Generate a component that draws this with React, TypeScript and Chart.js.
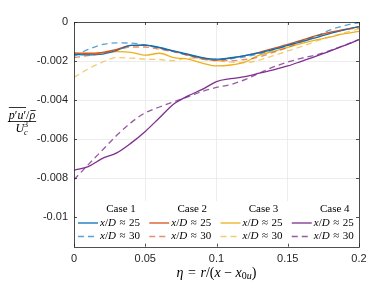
import React, { useEffect, useRef } from 'react';
import { Chart, registerables } from 'chart.js';
Chart.register(...registerables);

// ---------- data ----------
const etaValues = [0, 0.01, 0.02, 0.03, 0.04, 0.05, 0.06, 0.07, 0.08, 0.09, 0.1, 0.11, 0.12, 0.13, 0.14, 0.15, 0.16, 0.17, 0.18, 0.19, 0.2];

const case1At25 = [-0.00166, -0.00168, -0.00164, -0.00145, -0.0012, -0.00118, -0.0013, -0.00148, -0.00165, -0.00182, -0.0019, -0.00183, -0.00172, -0.00158, -0.0014, -0.0012, -0.001, -0.0008, -0.00058, -0.0004, -0.00024];
const case1At30 = [-0.00175, -0.0014, -0.00115, -0.00107, -0.00108, -0.00118, -0.00135, -0.00152, -0.0017, -0.00185, -0.00192, -0.00188, -0.00178, -0.00162, -0.00142, -0.0012, -0.00095, -0.00072, -0.0004, -0.00018, -0.00003];
const case2At25 = [-0.00158, -0.0016, -0.00155, -0.0014, -0.0012, -0.00118, -0.00132, -0.0015, -0.00168, -0.00185, -0.00195, -0.00185, -0.00172, -0.00155, -0.00135, -0.00115, -0.00093, -0.0007, -0.00052, -0.00038, -0.00024];
const case2At30 = [-0.00182, -0.00172, -0.0016, -0.00145, -0.00128, -0.00128, -0.0014, -0.00152, -0.00172, -0.0019, -0.00198, -0.00198, -0.00192, -0.00178, -0.00155, -0.0013, -0.001, -0.00075, -0.00055, -0.0004, -0.0003];
const case3At25 = [-0.00162, -0.00165, -0.00158, -0.00152, -0.00155, -0.0017, -0.0016, -0.00182, -0.0019, -0.0021, -0.00225, -0.0022, -0.00205, -0.0017, -0.0015, -0.0013, -0.0011, -0.00092, -0.00076, -0.0006, -0.00048];
const case3At30 = [-0.00284, -0.0024, -0.00205, -0.00182, -0.00185, -0.0019, -0.00192, -0.00198, -0.00185, -0.0019, -0.00198, -0.00205, -0.00208, -0.00195, -0.00172, -0.00148, -0.00125, -0.00098, -0.00075, -0.00055, -0.00035];
const case4At25 = [-0.00759, -0.0074, -0.00698, -0.0067, -0.0062, -0.0056, -0.0049, -0.0042, -0.00378, -0.00345, -0.00305, -0.0029, -0.0028, -0.00262, -0.00245, -0.00225, -0.002, -0.00175, -0.00148, -0.0012, -0.0009];
const case4At30 = [-0.00807, -0.0073, -0.00655, -0.0058, -0.00515, -0.00465, -0.00435, -0.00408, -0.00383, -0.00355, -0.00335, -0.0032, -0.00295, -0.00262, -0.0023, -0.00205, -0.00185, -0.00168, -0.00145, -0.00118, -0.0009];

const caseLabels = ['Case 1', 'Case 2', 'Case 3', 'Case 4'];
const stationLabels = ['25', '30'];
const xTickValues = [0, 0.05, 0.1, 0.15, 0.2];
const xTickLabels = ['0', '0.05', '0.1', '0.15', '0.2'];
const yTickValues = [-0.01, -0.008, -0.006, -0.004, -0.002, 0];
const yTickLabels = ['-0.01', '-0.008', '-0.006', '-0.004', '-0.002', '0'];

// ---------- styles ----------
const solidColors = ['#0072BD', '#D95319', '#EDB120', '#7E2F8E'];
const dashedColors = ['rgba(0,114,189,0.65)', 'rgba(217,83,25,0.65)', 'rgba(237,177,32,0.65)', 'rgba(126,47,142,0.8)'];
const DASH = [6, 4];
const SERIF = '"Liberation Serif", "Times New Roman", serif';
const SANS = '"Liberation Sans", Arial, sans-serif';
const AXIS_COLOR = '#262626';

type Seg = { t: string; font: string; dy?: number; pre?: number; post?: number };

function measureRich(ctx: CanvasRenderingContext2D, segs: Seg[]) {
  let w = 0;
  for (const s of segs) {
    ctx.font = s.font;
    w += (s.pre || 0) + ctx.measureText(s.t).width + (s.post || 0);
  }
  return w;
}

function drawRich(ctx: CanvasRenderingContext2D, segs: Seg[], x: number, y: number, align: 'left' | 'center') {
  const total = measureRich(ctx, segs);
  let cx = align === 'center' ? x - total / 2 : x;
  ctx.textAlign = 'left';
  ctx.textBaseline = 'middle';
  const positions: number[] = [];
  for (const s of segs) {
    ctx.font = s.font;
    cx += s.pre || 0;
    positions.push(cx);
    ctx.fillText(s.t, cx, y + (s.dy || 0));
    cx += ctx.measureText(s.t).width + (s.post || 0);
  }
  return { start: align === 'center' ? x - total / 2 : x, width: total, positions };
}

const decorPlugin = {
  id: 'decor',
  afterDraw(chart: any) {
    const ctx: CanvasRenderingContext2D = chart.ctx;
    const { left, right, top, bottom } = chart.chartArea;
    const xs = chart.scales.x;
    const ys = chart.scales.y;
    ctx.save();

    // legend background
    ctx.fillStyle = '#ffffff';
    ctx.fillRect(left + 1, 201, right - left - 2, bottom - 201);

    // legend
    const colW = (right - left) / 4;
    const it = `italic 11px ${SERIF}`;
    const rm = `11px ${SERIF}`;
    for (let i = 0; i < 4; i++) {
      const x0 = left + 4 + i * colW;
      ctx.fillStyle = '#000';
      drawRich(ctx, [{ t: caseLabels[i], font: rm }], x0 + 43, 209, 'center');
      for (let r = 0; r < 2; r++) {
        const yy = r === 0 ? 223 : 236.5;
        ctx.beginPath();
        ctx.strokeStyle = r === 0 ? solidColors[i] : dashedColors[i];
        ctx.lineWidth = 1.3;
        ctx.setLineDash(r === 0 ? [] : DASH);
        ctx.moveTo(x0, yy);
        ctx.lineTo(x0 + 20, yy);
        ctx.stroke();
        ctx.setLineDash([]);
        ctx.fillStyle = '#000';
        drawRich(ctx, [
          { t: 'x', font: it },
          { t: '/', font: rm },
          { t: 'D', font: it },
          { t: '\u2248', font: rm, pre: 3.5, post: 3.5 },
          { t: stationLabels[r], font: rm },
        ], x0 + 22, yy, 'left');
      }
    }

    // box
    ctx.strokeStyle = AXIS_COLOR;
    ctx.lineWidth = 0.8;
    ctx.strokeRect(Math.round(left) + 0.5, Math.round(top) + 0.5, Math.round(right - left), Math.round(bottom - top));

    // inner ticks
    ctx.beginPath();
    for (const v of xTickValues) {
      const px = Math.round(xs.getPixelForValue(v)) + 0.5;
      ctx.moveTo(px, bottom); ctx.lineTo(px, bottom - 3);
      ctx.moveTo(px, top); ctx.lineTo(px, top + 3);
    }
    for (const v of yTickValues) {
      const py = Math.round(ys.getPixelForValue(v)) + 0.5;
      ctx.moveTo(left, py); ctx.lineTo(left + 3, py);
      ctx.moveTo(right, py); ctx.lineTo(right - 3, py);
    }
    ctx.stroke();

    // x title
    ctx.fillStyle = '#000';
    const it14 = `italic 14px ${SERIF}`;
    const rm14 = `14px ${SERIF}`;
    drawRich(ctx, [
      { t: '\u03B7', font: it14 },
      { t: '=', font: rm14, pre: 4.5, post: 4.5 },
      { t: 'r', font: it14 },
      { t: '/(', font: rm14 },
      { t: 'x', font: it14 },
      { t: '\u2212', font: rm14, pre: 3.5, post: 3.5 },
      { t: 'x', font: it14 },
      { t: '0', font: `10px ${SERIF}`, dy: 3 },
      { t: 'u', font: `italic 10px ${SERIF}`, dy: 3 },
      { t: ')', font: rm14 },
    ], (left + right) / 2, 273, 'center');

    // y title (fraction)
    const it12 = `italic 12px ${SERIF}`;
    const rm12 = `12px ${SERIF}`;
    const numSegs: Seg[] = [
      { t: 'p', font: it12 },
      { t: '\u2032', font: rm12 },
      { t: 'u', font: it12 },
      { t: '\u2032', font: rm12 },
      { t: '/', font: rm12 },
      { t: '\u03C1', font: it12 },
    ];
    const cxT = 22;
    const numInfo = drawRich(ctx, numSegs, cxT, 116, 'center');
    ctx.strokeStyle = '#000';
    ctx.lineWidth = 0.8;
    ctx.beginPath();
    const olStart = numInfo.positions[0];
    const olEnd = numInfo.positions[4];
    ctx.moveTo(olStart, 107.5); ctx.lineTo(olEnd, 107.5);
    ctx.font = it12;
    const rhoX = numInfo.positions[5];
    const rhoW = ctx.measureText('\u03C1').width;
    ctx.moveTo(rhoX + 1, 110.5); ctx.lineTo(rhoX + rhoW + 0.5, 110.5);
    ctx.moveTo(numInfo.start - 1, 121.5); ctx.lineTo(numInfo.start + numInfo.width + 1, 121.5);
    ctx.stroke();
    // denominator U_c^3
    ctx.font = it12;
    const uW = ctx.measureText('U').width;
    ctx.font = `italic 8px ${SERIF}`;
    const cW = ctx.measureText('c').width;
    const denW = uW + cW + 1;
    const dx = cxT - denW / 2;
    ctx.textAlign = 'left';
    ctx.textBaseline = 'middle';
    ctx.font = it12;
    ctx.fillText('U', dx, 129);
    ctx.font = `italic 8px ${SERIF}`;
    ctx.fillText('c', dx + uW, 132.5);
    ctx.font = `8px ${SERIF}`;
    ctx.fillText('3', dx + uW, 125);

    ctx.restore();
  },
};

export default function App() {
  const canvasRef = useRef<HTMLCanvasElement | null>(null);

  useEffect(() => {
    document.body.style.margin = '0';
    const canvas = canvasRef.current;
    if (!canvas) return;

    const series = [case1At25, case1At30, case2At25, case2At30, case3At25, case3At30, case4At25, case4At30];
    const datasets = series.map((vals, k) => {
      const ci = Math.floor(k / 2);
      const dashed = k % 2 === 1;
      return {
        label: `${caseLabels[ci]} ${stationLabels[k % 2]}`,
        data: etaValues.map((x, j) => ({ x, y: vals[j] })),
        borderColor: dashed ? dashedColors[ci] : solidColors[ci],
        borderWidth: 1.3,
        borderDash: dashed ? DASH : [],
        pointRadius: 0,
        fill: false,
        cubicInterpolationMode: 'monotone' as const,
      };
    });
    const order = [1, 3, 5, 7, 0, 2, 4, 6];
    const ordered = order.map((i) => datasets[i]);

    const chart = new Chart(canvas, {
      type: 'line',
      data: { datasets: ordered },
      plugins: [decorPlugin],
      options: {
        responsive: false,
        animation: false,
        devicePixelRatio: 1,
        layout: { padding: { left: 0, top: 22, right: 17, bottom: 0 } },
        plugins: { legend: { display: false }, tooltip: { enabled: false } },
        scales: {
          x: {
            type: 'linear',
            min: 0,
            max: 0.2,
            border: { display: false },
            grid: { color: '#e8e8e8', lineWidth: 0.8, drawTicks: false },
            afterBuildTicks: (scale: any) => { scale.ticks = xTickValues.map((v) => ({ value: v })); },
            afterFit: (scale: any) => { scale.height = 35.3; },
            ticks: {
              padding: 6,
              maxRotation: 0,
              color: AXIS_COLOR,
              font: { family: SANS, size: 11 },
              callback: (v: any) => {
                const i = xTickValues.findIndex((t) => Math.abs(t - Number(v)) < 1e-9);
                return i >= 0 ? xTickLabels[i] : '';
              },
            },
          },
          y: {
            type: 'linear',
            min: -0.0115,
            max: 0,
            border: { display: false },
            grid: { color: '#e8e8e8', lineWidth: 0.8, drawTicks: false },
            afterBuildTicks: (scale: any) => { scale.ticks = yTickValues.map((v) => ({ value: v })); },
            afterFit: (scale: any) => { scale.width = 74; },
            ticks: {
              padding: 6,
              color: AXIS_COLOR,
              font: { family: SANS, size: 11 },
              callback: (v: any) => {
                const i = yTickValues.findIndex((t) => Math.abs(t - Number(v)) < 1e-9);
                return i >= 0 ? yTickLabels[i] : '';
              },
            },
          },
        },
      },
    });
    return () => chart.destroy();
  }, []);

  return (
    <div style={{ position: 'absolute', left: 0, top: 0, width: 376, height: 282 }}>
      <canvas ref={canvasRef} width={376} height={282} style={{ width: 376, height: 282 }} />
    </div>
  );
}
